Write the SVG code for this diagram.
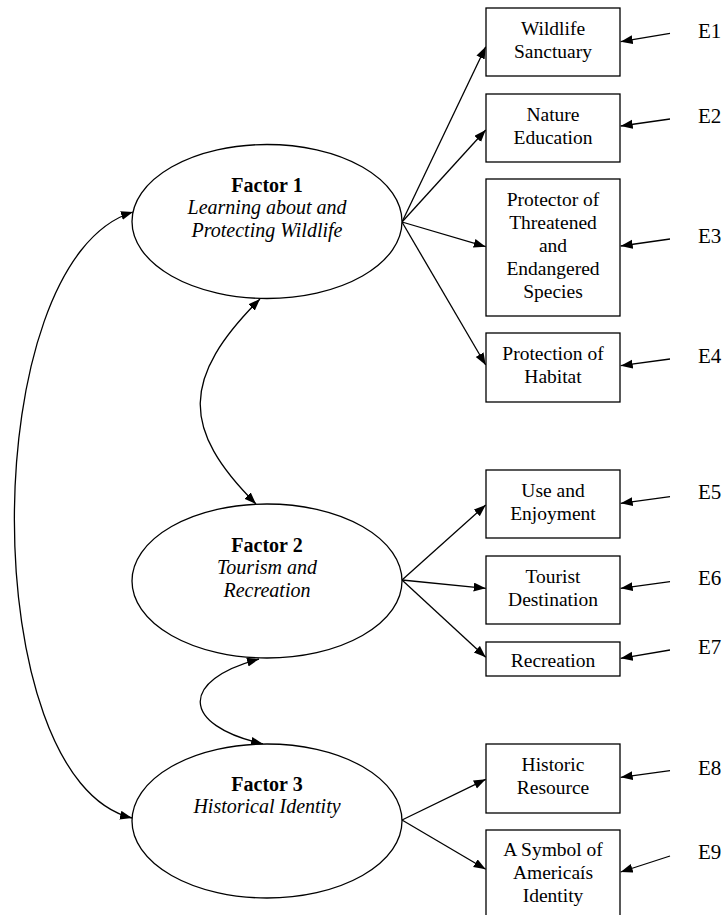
<svg xmlns="http://www.w3.org/2000/svg" width="727" height="915" viewBox="0 0 727 915">
<defs>
<marker id="ah" markerUnits="userSpaceOnUse" markerWidth="13" markerHeight="10" refX="12" refY="4.5" orient="auto-start-reverse">
<path d="M0,0 L12,4.5 L0,9 z" fill="#000"/>
</marker>
<style>
.box{fill:#fff;stroke:#000;stroke-width:1.3}
.ell{fill:#fff;stroke:#000;stroke-width:1.3}
.t{font-family:"Liberation Serif","Times New Roman",serif;font-size:19.5px;fill:#000;text-anchor:middle}
.e{font-family:"Liberation Serif","Times New Roman",serif;font-size:21px;fill:#000}
.fb{font-weight:bold;font-size:20px}
.fi{font-style:italic;font-size:20px}
.c{fill:none;stroke:#000;stroke-width:1.3;marker-end:url(#ah)}
.cc{fill:none;stroke:#000;stroke-width:1.3;marker-end:url(#ah);marker-start:url(#ah)}
</style>
</defs>
<rect width="727" height="915" fill="#fff"/>
<g id="connectors">
<path class="c" d="M402,222 L485.7,46.7"/>
<path class="c" d="M402,222 L485.7,130"/>
<path class="c" d="M402,222 L485.7,246.7"/>
<path class="c" d="M402,222 L485.7,365"/>
<path class="c" d="M402,580 L485.7,505"/>
<path class="c" d="M402,580 L485.7,588.3"/>
<path class="c" d="M402,580 L485.7,657.3"/>
<path class="c" d="M402,820 L485.7,779.3"/>
<path class="c" d="M402,820 L485.7,869.3"/>
<path class="c" d="M670,33.3 L620.7,41.7"/>
<path class="c" d="M670,119 L620.7,126"/>
<path class="c" d="M670,239 L620.7,246"/>
<path class="c" d="M670,359 L620.7,365.7"/>
<path class="c" d="M670,496.7 L620.7,503.3"/>
<path class="c" d="M670,581.7 L620.7,588.3"/>
<path class="c" d="M670,650 L620.7,658.3"/>
<path class="c" d="M670,770.7 L620.7,777.3"/>
<path class="c" d="M670,856 L620.7,872"/>
<path class="cc" d="M133,212 C-25,260 -25,780 132,818"/>
<path class="cc" d="M260,299 C181,378 181,429 256,504"/>
<path class="cc" d="M259,659 C180,680 180,725 263,744"/>
</g>
<g id="factor1">
<ellipse class="ell" cx="267" cy="221.5" rx="135" ry="77"/>
<text class="t fb" x="267" y="192">Factor 1</text>
<text class="t fi" x="267" y="214">Learning about and</text>
<text class="t fi" x="267" y="237">Protecting Wildlife</text>
</g>
<g id="factor2">
<ellipse class="ell" cx="267" cy="581" rx="135" ry="77"/>
<text class="t fb" x="267" y="552">Factor 2</text>
<text class="t fi" x="267" y="574">Tourism and</text>
<text class="t fi" x="267" y="597">Recreation</text>
</g>
<g id="factor3">
<ellipse class="ell" cx="267" cy="821" rx="135" ry="77"/>
<text class="t fb" x="267" y="791">Factor 3</text>
<text class="t fi" x="267" y="813">Historical Identity</text>
</g>
<g id="box1"><rect class="box" x="486" y="8" width="134" height="68"/>
<text class="t" x="553" y="35">Wildlife</text><text class="t" x="553" y="58">Sanctuary</text></g>
<g id="box2"><rect class="box" x="486" y="94" width="134" height="68"/>
<text class="t" x="553" y="121">Nature</text><text class="t" x="553" y="144">Education</text></g>
<g id="box3"><rect class="box" x="486" y="179" width="134" height="137"/>
<text class="t" x="553" y="206">Protector of</text><text class="t" x="553" y="229">Threatened</text><text class="t" x="553" y="252">and</text><text class="t" x="553" y="275">Endangered</text><text class="t" x="553" y="298">Species</text></g>
<g id="box4"><rect class="box" x="486" y="333" width="134" height="69"/>
<text class="t" x="553" y="360">Protection of</text><text class="t" x="553" y="383">Habitat</text></g>
<g id="box5"><rect class="box" x="486" y="470" width="134" height="68"/>
<text class="t" x="553" y="497">Use and</text><text class="t" x="553" y="520">Enjoyment</text></g>
<g id="box6"><rect class="box" x="486" y="556" width="134" height="68"/>
<text class="t" x="553" y="583">Tourist</text><text class="t" x="553" y="606">Destination</text></g>
<g id="box7"><rect class="box" x="486" y="642" width="134" height="34"/>
<text class="t" x="553" y="667">Recreation</text></g>
<g id="box8"><rect class="box" x="486" y="744" width="134" height="69"/>
<text class="t" x="553" y="771">Historic</text><text class="t" x="553" y="794">Resource</text></g>
<g id="box9"><rect class="box" x="486" y="830" width="134" height="95"/>
<text class="t" x="553" y="856">A Symbol of</text><text class="t" x="553" y="879">Americaís</text><text class="t" x="553" y="902">Identity</text></g>
<g id="errors">
<text class="e" x="698" y="38">E1</text>
<text class="e" x="698" y="123">E2</text>
<text class="e" x="698" y="243">E3</text>
<text class="e" x="698" y="363">E4</text>
<text class="e" x="698" y="499">E5</text>
<text class="e" x="698" y="585">E6</text>
<text class="e" x="698" y="654">E7</text>
<text class="e" x="698" y="775">E8</text>
<text class="e" x="698" y="859">E9</text>
</g>
</svg>
